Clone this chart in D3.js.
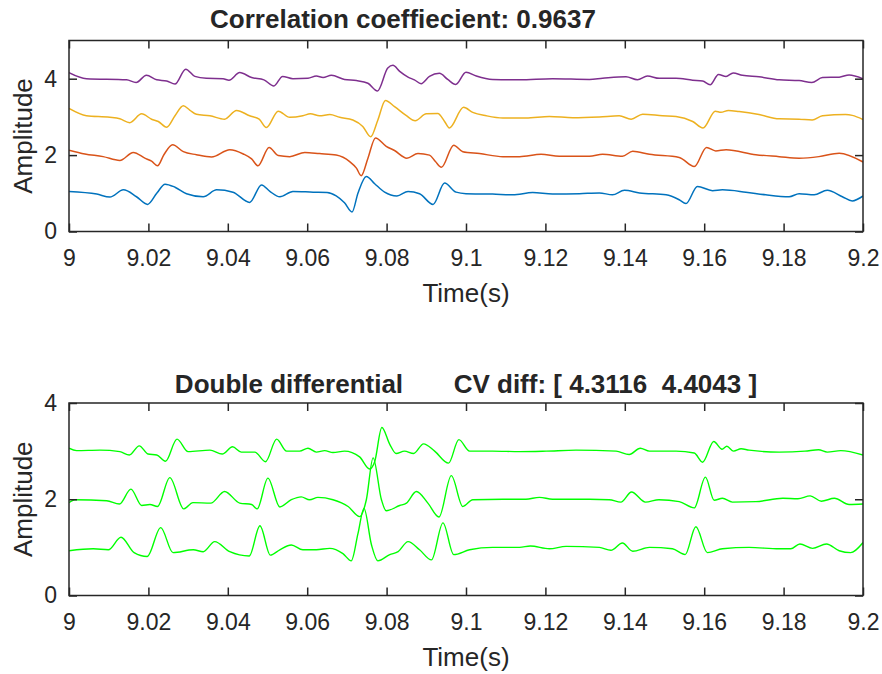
<!DOCTYPE html>
<html>
<head>
<meta charset="utf-8">
<script src="https://cdn.jsdelivr.net/npm/d3@7"></script>
<style>
  body { margin: 0; background: #fff; }
  text { font-family: "Liberation Sans", Arial, Helvetica, sans-serif; fill: #262626; }
</style>
</head>
<body>
<svg id="fig" width="882" height="674"></svg>
<script>
// x ticks shared by both panels
const timeTicks = [9, 9.02, 9.04, 9.06, 9.08, 9.1, 9.12, 9.14, 9.16, 9.18, 9.2];
const timeLabels = ["9", "9.02", "9.04", "9.06", "9.08", "9.1", "9.12", "9.14", "9.16", "9.18", "9.2"];
const ampTicks = [0, 2, 4];

// top panel: four channels, [time (s), amplitude]
const chBlue = [[9.0000,1.05],[9.0070,0.98],[9.0103,0.90],[9.0137,1.09],[9.0170,0.91],[9.0198,0.71],[9.0221,1.00],[9.0242,1.24],[9.0267,1.16],[9.0296,0.99],[9.0338,0.91],[9.0372,1.09],[9.0413,1.03],[9.0455,0.76],[9.0485,1.22],[9.0506,1.05],[9.0531,0.91],[9.0564,1.05],[9.0615,1.03],[9.0650,1.02],[9.0673,0.93],[9.0694,0.75],[9.0713,0.51],[9.0728,1.01],[9.0749,1.44],[9.0770,1.25],[9.0795,1.03],[9.0826,0.93],[9.0854,1.05],[9.0883,0.99],[9.0917,0.71],[9.0946,1.27],[9.0975,1.03],[9.1000,0.99],[9.1067,0.98],[9.1118,0.96],[9.1168,1.02],[9.1218,0.98],[9.1286,0.99],[9.1336,1.01],[9.1369,0.96],[9.1399,1.08],[9.1437,1.01],[9.1504,0.96],[9.1537,0.83],[9.1554,0.73],[9.1583,1.18],[9.1621,1.07],[9.1646,1.09],[9.1705,1.03],[9.1755,0.96],[9.1814,0.91],[9.1839,0.99],[9.1877,0.96],[9.1910,1.08],[9.1948,0.91],[9.1973,0.80],[9.2000,0.93]];
const chOrange = [[9.0000,2.13],[9.0040,2.03],[9.0086,1.96],[9.0128,1.86],[9.0162,2.07],[9.0191,1.92],[9.0208,1.84],[9.0223,1.72],[9.0239,2.01],[9.0261,2.27],[9.0288,2.09],[9.0321,2.01],[9.0359,1.95],[9.0405,2.14],[9.0439,2.03],[9.0460,1.90],[9.0476,1.72],[9.0504,2.20],[9.0527,1.99],[9.0556,1.96],[9.0594,2.07],[9.0631,2.04],[9.0673,2.00],[9.0707,1.83],[9.0724,1.66],[9.0736,1.46],[9.0753,1.92],[9.0772,2.45],[9.0799,2.23],[9.0820,2.12],[9.0851,1.92],[9.0879,2.04],[9.0908,2.00],[9.0923,1.83],[9.0938,1.68],[9.0969,2.26],[9.0992,2.09],[9.1034,2.04],[9.1093,1.96],[9.1135,1.96],[9.1189,2.02],[9.1235,1.97],[9.1311,1.97],[9.1344,2.02],[9.1394,1.97],[9.1420,2.10],[9.1462,2.02],[9.1537,1.94],[9.1575,1.70],[9.1606,2.20],[9.1629,2.11],[9.1655,2.14],[9.1730,2.01],[9.1789,1.96],[9.1839,1.92],[9.1889,1.96],[9.1940,2.05],[9.2000,1.82]];
const chYellow = [[9.0000,3.22],[9.0044,3.03],[9.0103,2.99],[9.0128,2.95],[9.0153,2.85],[9.0183,3.08],[9.0208,2.94],[9.0225,2.88],[9.0246,2.73],[9.0267,3.03],[9.0288,3.29],[9.0304,3.18],[9.0321,3.07],[9.0355,3.03],[9.0392,2.94],[9.0422,3.17],[9.0455,3.03],[9.0479,2.94],[9.0497,2.72],[9.0527,3.15],[9.0556,2.99],[9.0589,3.03],[9.0608,3.08],[9.0631,3.03],[9.0657,3.06],[9.0682,2.99],[9.0715,2.92],[9.0740,2.75],[9.0760,2.48],[9.0778,2.92],[9.0797,3.43],[9.0820,3.27],[9.0849,3.04],[9.0872,2.90],[9.0900,3.08],[9.0929,3.09],[9.0946,2.88],[9.0958,2.71],[9.0994,3.25],[9.1017,3.12],[9.1051,3.03],[9.1093,2.97],[9.1151,2.97],[9.1210,3.01],[9.1269,2.98],[9.1336,3.00],[9.1386,3.03],[9.1416,2.94],[9.1445,3.07],[9.1495,3.03],[9.1529,3.01],[9.1571,2.88],[9.1597,2.71],[9.1628,3.15],[9.1642,3.12],[9.1661,3.17],[9.1688,3.14],[9.1738,3.06],[9.1789,2.95],[9.1839,2.94],[9.1872,2.92],[9.1898,3.03],[9.1956,3.06],[9.1973,3.04],[9.2000,2.93]];
const chPurple = [[9.0000,4.16],[9.0044,4.00],[9.0145,3.97],[9.0169,3.90],[9.0195,4.09],[9.0221,3.97],[9.0246,3.94],[9.0267,3.86],[9.0294,4.25],[9.0317,4.06],[9.0346,4.01],[9.0388,4.00],[9.0403,3.96],[9.0430,4.16],[9.0460,4.03],[9.0491,3.97],[9.0516,3.81],[9.0538,4.06],[9.0564,4.00],[9.0602,4.01],[9.0623,4.07],[9.0640,4.03],[9.0661,4.09],[9.0694,3.98],[9.0724,3.95],[9.0753,3.88],[9.0777,3.68],[9.0803,4.28],[9.0816,4.35],[9.0833,4.19],[9.0854,4.04],[9.0870,3.97],[9.0887,3.87],[9.0908,4.06],[9.0933,4.14],[9.0954,3.98],[9.0974,3.85],[9.1000,4.17],[9.1026,4.07],[9.1067,3.98],[9.1135,3.97],[9.1218,4.00],[9.1311,3.98],[9.1344,4.01],[9.1403,4.05],[9.1432,3.97],[9.1457,4.07],[9.1487,4.01],[9.1529,4.01],[9.1571,3.96],[9.1596,3.94],[9.1615,3.84],[9.1636,4.11],[9.1655,4.06],[9.1673,4.15],[9.1696,4.09],[9.1738,4.05],[9.1789,3.97],[9.1839,3.95],[9.1871,3.90],[9.1898,4.03],[9.1940,4.04],[9.1965,4.10],[9.2000,4.00]];

// bottom panel: three double-differential channels
const ddLow = [[9.0000,0.93],[9.0061,0.97],[9.0099,0.95],[9.0131,1.21],[9.0164,0.89],[9.0197,0.81],[9.0231,1.41],[9.0262,0.89],[9.0313,0.95],[9.0338,0.91],[9.0367,1.12],[9.0405,0.91],[9.0454,0.82],[9.0481,1.45],[9.0507,0.84],[9.0531,0.95],[9.0560,1.05],[9.0589,0.95],[9.0623,0.95],[9.0657,0.98],[9.0690,0.87],[9.0711,0.72],[9.0728,1.29],[9.0743,1.81],[9.0762,1.05],[9.0778,0.72],[9.0808,0.85],[9.0829,0.91],[9.0854,1.12],[9.0883,0.95],[9.0913,0.74],[9.0942,1.51],[9.0969,0.85],[9.1009,0.95],[9.1067,1.00],[9.1135,1.00],[9.1162,1.03],[9.1210,0.97],[9.1252,1.02],[9.1336,1.00],[9.1365,0.94],[9.1394,1.09],[9.1420,0.92],[9.1462,1.00],[9.1520,0.97],[9.1552,0.85],[9.1579,1.43],[9.1608,0.89],[9.1646,0.97],[9.1713,1.00],[9.1789,0.97],[9.1818,0.97],[9.1841,1.07],[9.1873,0.98],[9.1908,1.07],[9.1940,0.93],[9.1969,0.89],[9.2000,1.10]];
const ddMid = [[9.0000,1.93],[9.0015,1.99],[9.0095,1.97],[9.0127,1.90],[9.0156,2.21],[9.0183,1.87],[9.0204,1.89],[9.0223,1.85],[9.0254,2.45],[9.0289,1.80],[9.0312,1.93],[9.0357,1.92],[9.0392,2.16],[9.0430,1.92],[9.0460,1.89],[9.0474,1.80],[9.0501,2.44],[9.0531,1.84],[9.0560,1.99],[9.0585,2.05],[9.0606,1.99],[9.0627,2.04],[9.0665,1.99],[9.0703,1.85],[9.0732,1.64],[9.0749,1.99],[9.0766,2.86],[9.0787,1.99],[9.0799,1.76],[9.0833,1.87],[9.0850,1.92],[9.0875,2.16],[9.0904,1.92],[9.0932,1.63],[9.0963,2.49],[9.0992,1.85],[9.1017,1.99],[9.1093,2.00],[9.1151,2.00],[9.1185,2.04],[9.1218,2.00],[9.1311,2.00],[9.1361,1.99],[9.1390,1.94],[9.1417,2.15],[9.1452,1.94],[9.1486,1.99],[9.1537,1.95],[9.1575,1.82],[9.1603,2.46],[9.1625,1.98],[9.1646,2.02],[9.1671,1.94],[9.1730,1.95],[9.1798,2.02],[9.1836,2.01],[9.1867,2.07],[9.1895,1.96],[9.1928,2.02],[9.1965,1.89],[9.2000,1.90]];
const ddHigh = [[9.0000,3.06],[9.0019,3.01],[9.0078,3.02],[9.0128,2.99],[9.0152,2.92],[9.0177,3.11],[9.0199,2.94],[9.0221,2.92],[9.0243,2.79],[9.0272,3.25],[9.0300,2.99],[9.0355,3.02],[9.0386,2.94],[9.0412,3.09],[9.0434,2.98],[9.0468,2.98],[9.0495,2.78],[9.0523,3.25],[9.0548,3.00],[9.0581,3.00],[9.0602,3.06],[9.0623,2.98],[9.0644,3.01],[9.0665,2.97],[9.0694,3.00],[9.0732,2.88],[9.0757,2.63],[9.0770,2.78],[9.0788,3.49],[9.0808,3.14],[9.0824,2.95],[9.0845,3.00],[9.0868,2.95],[9.0893,3.15],[9.0921,3.00],[9.0956,2.75],[9.0982,3.24],[9.1009,3.00],[9.1067,3.00],[9.1135,2.99],[9.1202,3.00],[9.1277,3.02],[9.1378,3.00],[9.1411,2.93],[9.1439,3.06],[9.1462,3.00],[9.1529,3.00],[9.1575,2.96],[9.1596,2.77],[9.1624,3.20],[9.1645,3.04],[9.1657,3.10],[9.1674,3.00],[9.1693,3.05],[9.1713,3.02],[9.1789,2.98],[9.1854,3.00],[9.1888,3.03],[9.1910,2.98],[9.1944,3.01],[9.2000,2.92]];

const svg = d3.select("#fig");
const left = 69, right = 863;

function drawPanel(cfg) {
  const x = d3.scaleLinear().domain([9, 9.2]).range([left, right]);
  const y = d3.scaleLinear().domain(cfg.yDomain).range([cfg.bottom, cfg.top]);
  const g = svg.append("g");

  const clipId = "clip" + cfg.id;
  g.append("clipPath").attr("id", clipId)
    .append("rect").attr("x", left).attr("y", cfg.top)
    .attr("width", right - left).attr("height", cfg.bottom - cfg.top);

  const line = d3.line().x(d => x(d[0])).y(d => y(d[1])).curve(d3.curveMonotoneX);
  g.append("g").attr("clip-path", "url(#" + clipId + ")")
    .selectAll("path").data(cfg.series).enter().append("path")
    .attr("d", d => line(d.values))
    .attr("fill", "none")
    .attr("stroke", d => d.color)
    .attr("stroke-width", cfg.lineWidth)
    .attr("stroke-linejoin", "round");

  // axes, ticks pointing inward like matlab
  const xb = g.append("g").attr("transform", "translate(0," + cfg.bottom + ")")
    .call(d3.axisBottom(x).tickValues(timeTicks).tickFormat((d, i) => timeLabels[i])
      .tickSizeInner(-8).tickSizeOuter(0).tickPadding(18));
  const xt = g.append("g").attr("transform", "translate(0," + cfg.top + ")")
    .call(d3.axisTop(x).tickValues(timeTicks).tickFormat("").tickSizeInner(-8).tickSizeOuter(0));
  const yl = g.append("g").attr("transform", "translate(" + left + ",0)")
    .call(d3.axisLeft(y).tickValues(ampTicks).tickFormat(d3.format("d"))
      .tickSizeInner(-8).tickSizeOuter(0).tickPadding(12));
  const yr = g.append("g").attr("transform", "translate(" + right + ",0)")
    .call(d3.axisRight(y).tickValues(ampTicks).tickFormat("").tickSizeInner(-8).tickSizeOuter(0));

  [xb, xt, yl, yr].forEach(a => {
    a.select(".domain").remove();
    a.selectAll("line").attr("stroke", "#262626").attr("stroke-width", 1.5);
    a.selectAll("text").attr("font-size", 23).attr("fill", "#262626")
      .style("font-family", "'Liberation Sans', Arial, sans-serif");
  });

  g.append("rect").attr("x", left).attr("y", cfg.top)
    .attr("width", right - left).attr("height", cfg.bottom - cfg.top)
    .attr("fill", "none").attr("stroke", "#262626").attr("stroke-width", 1.5);

  g.append("text").attr("x", cfg.titleX).attr("y", cfg.titleY)
    .attr("text-anchor", "middle").attr("font-size", 26).attr("font-weight", "bold")
    .attr("fill", "#000").style("white-space", "pre").attr("xml:space", "preserve")
    .text(cfg.title);

  g.append("text").attr("x", (left + right) / 2).attr("y", cfg.bottom + 70)
    .attr("text-anchor", "middle").attr("font-size", 26).text("Time(s)");

  g.append("text")
    .attr("transform", "translate(32," + ((cfg.top + cfg.bottom) / 2) + ") rotate(-90)")
    .attr("text-anchor", "middle").attr("font-size", 26).text("Amplitude");
}

drawPanel({
  id: 1, top: 40.5, bottom: 231.5, yDomain: [0, 5], lineWidth: 1.5,
  title: "Correlation coeffiecient: 0.9637", titleX: 403, titleY: 28,
  series: [
    {values: chBlue, color: "#0072BD"},
    {values: chOrange, color: "#D95319"},
    {values: chYellow, color: "#EDB120"},
    {values: chPurple, color: "#7E2F8E"}
  ]
});

drawPanel({
  id: 2, top: 403, bottom: 595.5, yDomain: [0, 4], lineWidth: 1.4,
  title: "Double differential       CV diff: [ 4.3116  4.4043 ]", titleX: 466, titleY: 393,
  series: [
    {values: ddLow, color: "#00FF00"},
    {values: ddMid, color: "#00FF00"},
    {values: ddHigh, color: "#00FF00"}
  ]
});
</script>
</body>
</html>
